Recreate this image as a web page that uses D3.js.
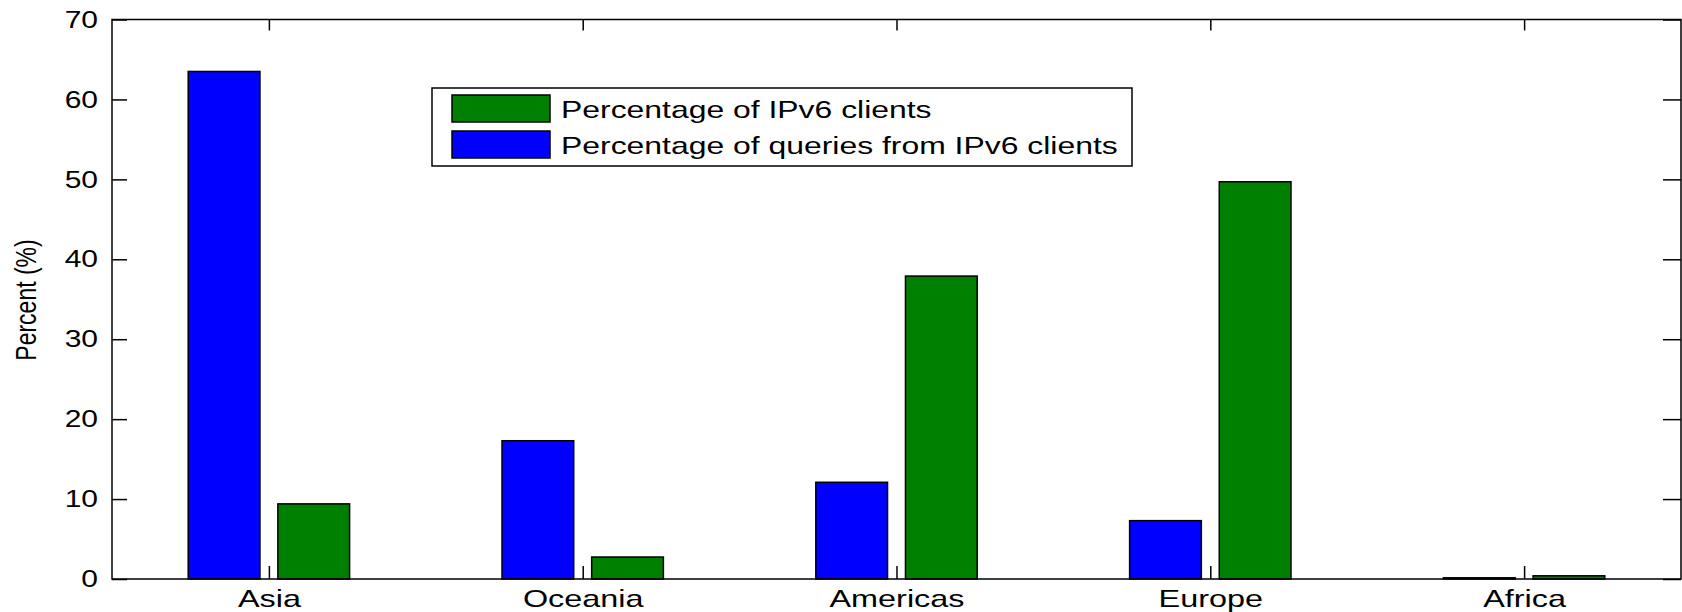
<!DOCTYPE html>
<html>
<head>
<meta charset="utf-8">
<script src="https://cdn.jsdelivr.net/npm/d3@7"></script>
<style>
  body { margin: 0; background: #fff; }
  text { font-family: "Liberation Sans", Arial, sans-serif; fill: #000; }
</style>
</head>
<body>
<script>
(function(){

// data
var categories = ["Asia", "Oceania", "Americas", "Europe", "Africa"];
var queriesPct = [63.5, 17.3, 12.1, 7.3, 0.15];   // blue
var clientsPct = [9.4, 2.75, 37.9, 49.7, 0.4];    // green
var yTicks = [0, 10, 20, 30, 40, 50, 60, 70];
var legendLabels = ["Percentage of IPv6 clients", "Percentage of queries from IPv6 clients"];

var width = 1682, height = 612;
var plotLeft = 112, plotRight = 1681, plotTop = 19.5, plotBottom = 579;
var SX = 1.25; // the picture is stretched sideways

var svg = d3.select("body").append("svg")
    .attr("width", width)
    .attr("height", height);

var x = d3.scaleLinear().domain([0.5, categories.length + 0.5]).range([plotLeft, plotRight]);
var y = d3.scaleLinear().domain([0, 70]).range([plotBottom, plotTop]);

// matlab style grouped bars
var nSeries = 2,
    groupWidth = Math.min(0.8, nSeries / (nSeries + 1.5)),
    barWidth = groupWidth / nSeries * 0.8;
var series = [
    {values: queriesPct, color: "#0000ff"},
    {values: clientsPct, color: "#008000"}
];

series.forEach(function(s, j){
    var offset = (j - (nSeries - 1) / 2) * groupWidth / nSeries;
    svg.selectAll(".bar" + j)
        .data(s.values)
        .enter()
        .append("rect")
        .attr("class", "bar" + j)
        .attr("x", function(d, i){ return x(i + 1 + offset - barWidth / 2); })
        .attr("width", x(barWidth) - x(0))
        .attr("y", function(d){ return y(d); })
        .attr("height", function(d){ return y(0) - y(d); })
        .attr("fill", s.color)
        .attr("stroke", "#000")
        .attr("stroke-width", 1.5);
});

var catTicks = categories.map(function(c, i){ return i + 1; });

// left axis
var gy = svg.append("g")
    .attr("transform", "translate(" + plotLeft + ",0)")
    .call(d3.axisLeft(y).tickValues(yTicks).tickSizeInner(-15).tickSizeOuter(0).tickPadding(14));
gy.selectAll("text")
    .attr("x", -14 / SX)
    .attr("transform", "scale(" + SX + ",1)")
    .style("font-size", "24px");

// right axis, ticks only
svg.append("g")
    .attr("transform", "translate(" + plotRight + ",0)")
    .call(d3.axisRight(y).tickValues(yTicks).tickSizeInner(-18).tickSizeOuter(0).tickFormat(""));

// top axis, ticks only
svg.append("g")
    .attr("transform", "translate(0," + plotTop + ")")
    .call(d3.axisTop(x).tickValues(catTicks).tickSizeInner(-11).tickSizeOuter(0).tickFormat(""));

// bottom axis
var gx = svg.append("g")
    .attr("transform", "translate(0," + plotBottom + ")")
    .call(d3.axisBottom(x).tickValues(catTicks).tickSizeInner(-13).tickSizeOuter(0)
        .tickFormat(function(d){ return categories[d - 1]; }));
gx.selectAll("text")
    .attr("y", 28)
    .attr("dy", 0)
    .attr("transform", "scale(1.35,1)")
    .style("font-size", "24px");

svg.selectAll(".domain").remove();
svg.selectAll(".tick line").attr("stroke", "#000").attr("stroke-width", 1.5);

// frame
svg.append("rect")
    .attr("x", plotLeft).attr("y", plotTop)
    .attr("width", plotRight - plotLeft).attr("height", plotBottom - plotTop)
    .attr("fill", "none")
    .attr("stroke", "#000")
    .attr("stroke-width", 1.5);

// y label
svg.append("text")
    .attr("transform", "translate(25,300) scale(1.27,1) rotate(-90)")
    .attr("text-anchor", "middle")
    .attr("dy", "0.36em")
    .style("font-size", "23px")
    .text("Percent (%)");

// legend
var legend = svg.append("g");
legend.append("rect")
    .attr("x", 432).attr("y", 88)
    .attr("width", 700).attr("height", 78)
    .attr("fill", "#fff")
    .attr("stroke", "#000")
    .attr("stroke-width", 1.5);

var legendColors = [series[1].color, series[0].color];
legendLabels.forEach(function(lab, k){
    legend.append("rect")
        .attr("x", 452).attr("y", 95 + k * 36)
        .attr("width", 98).attr("height", 27)
        .attr("fill", legendColors[k])
        .attr("stroke", "#000")
        .attr("stroke-width", 1.5);
    legend.append("text")
        .attr("transform", "translate(561," + (117.5 + k * 36) + ") scale(1.33,1)")
        .style("font-size", "24px")
        .text(lab);
});

})();
</script>
</body>
</html>
